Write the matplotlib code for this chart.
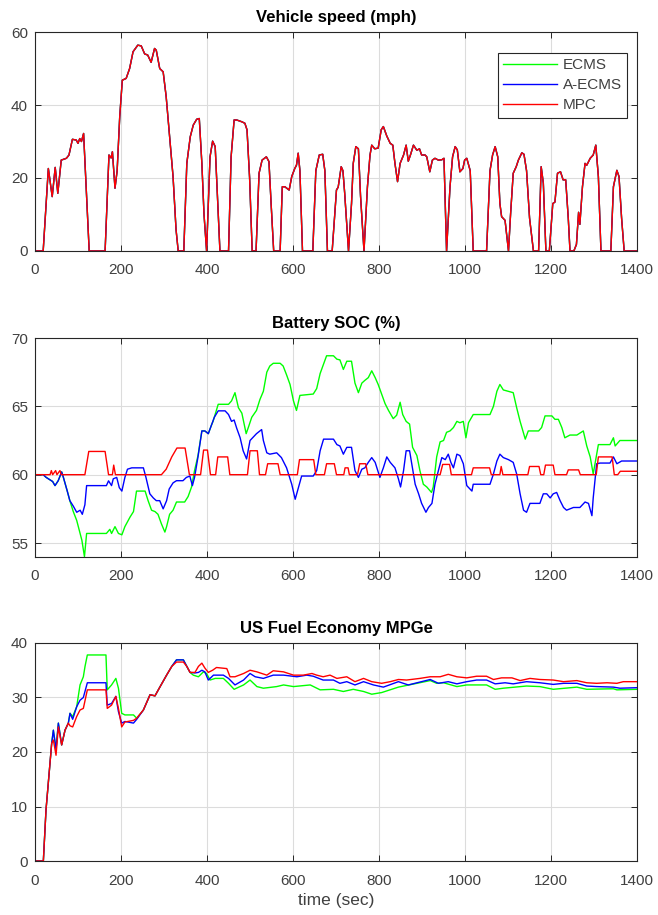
import numpy as np
from matplotlib import pyplot as plt

plt.rcParams['font.family'] = ['Liberation Sans', 'DejaVu Sans']

# vehicle speed (mph), same drive cycle for all three controllers
t_speed = [0, 19, 31, 40, 47, 53, 61, 73, 79, 87, 96, 100, 104, 108, 113, 126, 163, 172, 177, 180,
           186, 191, 197, 203, 212, 220, 228, 239, 247, 255, 262, 270, 278, 282, 290, 298, 305, 313,
           321, 328, 333, 346, 353, 361, 368, 376, 382, 388, 393, 399, 407, 413, 419, 426, 430, 450,
           456, 463, 469, 481, 488, 493, 499, 505, 514, 521, 528, 538, 544, 549, 555, 570, 575, 581,
           591, 597, 604, 608, 612, 616, 622, 646, 653, 661, 669, 674, 680, 691, 701, 705, 712, 716,
           720, 729, 736, 740, 746, 752, 757, 765, 773, 779, 783, 790, 798, 805, 810, 818, 826, 832,
           837, 843, 849, 857, 863, 868, 873, 880, 888, 894, 899, 907, 911, 918, 924, 930, 938, 946,
           951, 957, 965, 971, 977, 982, 988, 995, 999, 1004, 1012, 1019, 1050, 1058, 1064, 1070,
           1076, 1081, 1085, 1093, 1101, 1106, 1112, 1119, 1124, 1132, 1137, 1143, 1150, 1159, 1171,
           1177, 1182, 1188, 1196, 1204, 1209, 1215, 1222, 1228, 1234, 1240, 1244, 1253, 1259, 1264,
           1267, 1273, 1279, 1283, 1291, 1298, 1304, 1310, 1316, 1339, 1345, 1353, 1358, 1364, 1370,
           1400]
speed = [0, 0, 22.6, 14.9, 22.9, 15.8, 24.9, 25.4, 26.3, 30.6, 30.4, 29.5, 30.8, 30.0, 32.2, 0, 0,
         26.3, 25.5, 27.2, 17.2, 22, 36.8, 46.8, 47.3, 50.0, 54.6, 56.4, 56.2, 54.0, 53.7, 51.7, 55.5,
         55.0, 50.0, 49.1, 42.3, 31.3, 20.4, 5.8, 0, 0, 24, 31.3, 34.5, 36.1, 36.3, 24, 10, 0, 25.8,
         30.1, 28.6, 10, 0, 0, 25.8, 35.9, 35.9, 35.4, 35.0, 33.2, 20, 0, 0, 21.3, 24.9, 25.8, 24.5,
         13, 0, 0, 17.6, 17.6, 16.7, 20.4, 22.6, 23.5, 26.8, 22, 0, 0, 22, 26.3, 26.5, 22, 0, 0, 16.7,
         17.5, 23.1, 22, 16, 0, 13, 24, 28.6, 28, 15, 0, 17.6, 26.3, 29, 28, 28.2, 33.2, 34.1, 31.5,
         29.5, 29, 24, 19, 24, 26.3, 29, 24.6, 26.3, 29, 27.6, 28, 26.3, 26.3, 25.8, 21.7, 24.9, 25.4,
         24.9, 25, 25.4, 0, 17.6, 25.8, 28.6, 27.7, 21.7, 22.6, 24.9, 25.4, 22, 0, 0, 22, 26.3, 28.6,
         25.8, 13, 9.4, 8.4, 0, 10.4, 21.3, 23.1, 24.9, 26.9, 26.5, 22, 9, 0, 0, 23.1, 18.6, 0, 0, 13,
         13.4, 21.3, 21.7, 19.5, 19.5, 9, 0, 0, 1.8, 10.6, 7.3, 17.6, 24, 23.5, 25.4, 26.3, 29, 20.4,
         0, 0, 17.6, 22.1, 20.4, 9, 0, 0]

# battery SOC (%)
t_soc_ecms = [0, 19, 26, 41, 46.5, 54, 62, 66, 75, 81, 89, 97, 109, 115, 120, 166, 174, 178, 186,
              194, 202, 209, 221, 229, 236, 256, 263, 271, 279, 286, 294, 302, 306, 313, 321, 329,
              348, 356, 364, 371, 379, 388, 395, 403, 410, 414, 426, 450, 457, 465, 473, 481, 491,
              496, 504, 515, 523, 531, 539, 546, 554, 570, 577, 585, 593, 601, 608, 616, 647, 655,
              663, 671, 678, 694, 702, 709, 717, 725, 736, 744, 752, 760, 767, 775, 783, 791, 798,
              806, 814, 822, 833, 841, 849, 855, 863, 871, 878, 888, 895, 903, 911, 922, 926, 934,
              942, 950, 957, 965, 973, 981, 988, 996, 1002, 1008, 1019, 1058, 1066, 1074, 1081,
              1089, 1101, 1112, 1120, 1128, 1140, 1147, 1171, 1178, 1186, 1202, 1209, 1217, 1225,
              1232, 1244, 1260, 1275, 1283, 1291, 1298, 1306, 1310, 1337, 1345, 1349, 1360, 1400]
soc_ecms = [60, 60, 59.8, 59.5, 59.2, 59.56, 60.2, 59.8, 58.8, 58.1, 57.3, 56.65, 55.2, 54.0, 55.7,
            55.7, 56.0, 55.7, 56.2, 55.7, 55.6, 56.2, 56.9, 57.3, 58.8, 58.8, 58.1, 57.4, 57.3,
            57.1, 56.4, 55.8, 56.2, 57.1, 57.4, 58.0, 58.0, 58.4, 59.1, 60.3, 61.4, 63.2, 63.2,
            63.0, 63.6, 63.9, 65.15, 65.15, 65.4, 66.0, 64.9, 64.5, 63.0, 63.45, 64.2, 64.7, 65.5,
            66.1, 67.5, 67.95, 68.15, 68.15, 67.95, 67.3, 66.6, 65.4, 64.7, 65.8, 65.9, 66.3,
            67.4, 68.1, 68.7, 68.7, 68.45, 68.4, 67.7, 68.3, 68.3, 66.7, 66.0, 66.7, 66.9, 67.1,
            67.6, 67.1, 66.6, 65.9, 65.2, 64.7, 64.1, 64.35, 65.3, 64.4, 63.9, 63.7, 62.0, 61.4,
            60.3, 59.3, 59.1, 58.7, 59.1, 61.3, 62.4, 62.5, 63.1, 63.2, 63.45, 63.9, 63.8, 63.9,
            62.7, 63.8, 64.4, 64.4, 65.0, 66.1, 66.6, 66.2, 66.1, 66.0, 64.9, 63.9, 62.6, 63.2,
            63.2, 63.45, 64.3, 64.3, 64.05, 64.05, 63.45, 62.7, 62.9, 62.9, 63.2, 62.1, 61.3,
            60.05, 61.5, 62.2, 62.2, 62.7, 62.1, 62.5, 62.5]

t_soc_aecms = [0, 19, 26, 41, 46.5, 54, 62, 66, 75, 81, 89, 97, 105, 110, 116, 120, 166, 171, 178,
               182, 190, 196, 202, 209, 215, 225, 252, 258, 267, 275, 282, 290, 298, 306, 312, 321,
               329, 344, 352, 360, 366, 371, 379, 388, 395, 403, 410, 417, 426, 442, 450, 457, 463,
               469, 477, 484, 492, 500, 506, 515, 523, 527, 531, 539, 546, 562, 573, 585, 597, 605,
               612, 620, 647, 655, 663, 671, 694, 702, 709, 717, 725, 736, 744, 752, 760, 767, 775,
               783, 791, 802, 810, 818, 826, 837, 845, 850, 857, 863, 871, 876, 884, 892, 899, 909,
               915, 923, 930, 938, 946, 954, 961, 967, 973, 981, 988, 996, 1004, 1016, 1019, 1058,
               1066, 1074, 1081, 1089, 1101, 1112, 1120, 1128, 1136, 1143, 1151, 1174, 1182, 1190,
               1198, 1205, 1213, 1221, 1229, 1236, 1252, 1267, 1279, 1287, 1295, 1298, 1306, 1314,
               1337, 1345, 1353, 1364, 1400]
soc_aecms = [60, 60, 59.8, 59.5, 59.2, 59.56, 60.2, 59.8, 58.8, 58.1, 57.7, 57.25, 57.4, 57.1, 57.8,
             59.2, 59.2, 59.55, 59.2, 59.7, 59.8, 59.05, 58.8, 59.8, 60.4, 60.5, 60.5, 59.8, 58.6,
             58.3, 58.1, 58.1, 57.5, 58.1, 58.95, 59.4, 59.56, 59.56, 59.8, 59.9, 59.2, 59.8, 61.3,
             63.2, 63.2, 63.0, 63.6, 64.2, 64.67, 64.67, 64.4, 63.9, 64.0, 63.4, 62.7, 61.75, 61.15,
             62.5, 62.7, 63.0, 63.2, 63.3, 62.5, 61.6, 61.5, 61.6, 61.25, 60.5, 59.3, 58.2, 59.0,
             59.9, 59.9, 60.3, 61.75, 62.6, 62.6, 62.2, 62.1, 61.5, 62.0, 62.0, 60.3, 59.8, 60.4,
             60.5, 60.9, 61.25, 60.9, 59.8, 60.5, 61.3, 60.9, 60.5, 59.7, 59.1, 60.3, 61.75, 61.75,
             60.8, 59.3, 58.6, 57.9, 57.25, 57.6, 57.9, 59.3, 60.3, 61.25, 61.1, 61.5, 60.9, 60.5,
             61.5, 61.4, 60.8, 59.2, 58.8, 59.3, 59.3, 60.05, 61.0, 61.5, 61.25, 61.1, 60.9, 60.05,
             58.6, 57.4, 57.25, 57.9, 57.9, 58.6, 58.6, 58.3, 58.6, 58.7, 58.1, 57.6, 57.4, 57.6,
             57.6, 58.0, 57.9, 57.0, 58.3, 60.8, 60.85, 60.85, 61.3, 60.8, 61.0, 61.0]

t_soc_mpc = [0, 35, 38, 41, 48, 51, 58, 61, 116, 125, 163, 171, 180, 183, 187, 294, 305, 318, 330,
             349, 359, 385, 392, 401, 408, 420, 425, 448, 453, 494, 500, 517, 522, 536, 541, 565,
             570, 610, 615, 648, 653, 673, 678, 696, 701, 718, 721, 728, 731, 750, 755, 769, 774,
             942, 948, 964, 968, 1015, 1019, 1057, 1061, 1081, 1084, 1088, 1146, 1150, 1172, 1176,
             1183, 1187, 1205, 1209, 1236, 1240, 1264, 1268, 1305, 1310, 1342, 1347, 1355, 1361,
             1400]
soc_mpc = [60, 60, 60.3, 60, 60.3, 60, 60.3, 60, 60, 61.7, 61.7, 60, 60, 60.7, 60, 60, 60.4, 61.3,
           61.95, 61.95, 60, 60, 61.8, 61.8, 60, 60, 61.3, 61.3, 60, 60, 61.75, 61.75, 60, 60, 60.8,
           60.8, 60, 60, 61.1, 61.1, 60, 60, 60.8, 60.8, 60, 60, 60.5, 60.5, 60, 60, 60.8, 60.8, 60,
           60, 60.75, 60.75, 60, 60, 60.5, 60.5, 60, 60, 60.6, 60, 60, 60.6, 60.6, 60, 60, 60.7,
           60.7, 60, 60, 60.35, 60.35, 60, 60, 61.3, 61.3, 60, 60, 60.25, 60.25]

# cumulative fuel economy (MPGe)
t_mpg_ecms = [0, 19.4, 25.6, 38.8, 42.7, 48.9, 54.3, 62, 69.8, 77.5, 81.4, 87.6, 96.9, 104.7, 112.4,
              116.3, 121.7, 165, 168, 178, 188, 194, 201.6, 209, 229, 236.5, 252, 267.5, 279, 291,
              306, 318, 329, 345, 353, 360.5, 368, 380, 391.5, 399, 407, 419, 438, 450, 463, 485,
              500, 516, 531, 562, 578, 601, 640, 663, 694, 717, 740, 764, 783, 806, 845, 919, 934,
              950, 981, 1004, 1050, 1070, 1089, 1143, 1174, 1205, 1260, 1283, 1345, 1353, 1400]
mpg_ecms = [0, 0, 9.4, 21.6, 24.0, 20.5, 25.3, 21.3, 24, 25.3, 27.1, 26.5, 28.3, 32.3, 33.8, 35.7,
            37.8, 37.8, 31.4, 32.3, 33.5, 31.7, 27.1, 26.8, 26.8, 26.2, 27.7, 30.5, 30.3, 32, 34.1,
            35.7, 36.9, 36.9, 35.7, 34.6, 34.1, 33.8, 34.7, 34.4, 33.2, 33.5, 33.5, 32.6, 31.5,
            32.3, 33.2, 32.0, 31.7, 32.0, 32.3, 32.0, 32.3, 31.4, 31.5, 31.1, 31.5, 31.1, 30.6,
            30.9, 31.9, 33.1, 32.6, 32.7, 32.0, 32.3, 32.3, 31.5, 31.7, 32.1, 32.0, 31.5, 31.9,
            31.5, 31.6, 31.4, 31.5]

t_mpg_aecms = [0, 19.4, 25.6, 38.8, 42.7, 48.9, 54.3, 62, 69.8, 77.5, 81.4, 87.6, 96.9, 104.7,
               112.4, 121.7, 165, 168, 178, 188, 194, 201.6, 209, 229, 236.5, 252, 267.5, 279, 291,
               306, 318, 329, 345, 353, 360.5, 372, 380, 388, 395, 403, 415, 438, 450, 465, 485,
               500, 512, 531, 554, 578, 609, 632, 647, 670, 694, 709, 725, 744, 764, 787, 810, 845,
               868, 919, 938, 961, 981, 1004, 1027, 1050, 1070, 1093, 1112, 1143, 1174, 1205, 1229,
               1260, 1283, 1306, 1345, 1360, 1400]
mpg_aecms = [0, 0, 9.4, 21.6, 24.0, 20.5, 25.3, 21.3, 24, 25.3, 27.1, 26.0, 28.3, 29.5, 30.0, 32.7,
             32.7, 28.6, 28.9, 30.2, 27.4, 25.3, 25.6, 25.3, 26.0, 27.7, 30.5, 30.3, 32, 34.1, 35.7,
             36.9, 36.9, 35.7, 34.6, 34.5, 34.6, 35.0, 34.7, 33.2, 34.1, 34.1, 33.5, 32.3, 33.2,
             34.4, 33.8, 33.5, 34.1, 34.1, 33.8, 34.1, 33.9, 33.2, 33.2, 32.6, 32.9, 32.3, 32.9,
             32.3, 31.9, 32.9, 32.3, 33.3, 32.6, 32.9, 32.5, 32.9, 33.2, 33.2, 32.5, 32.7, 32.5,
             32.9, 32.7, 32.4, 32.6, 32.6, 32.1, 32.0, 31.9, 31.7, 31.8]

t_mpg_mpc = [0, 19.4, 25.6, 38.8, 42.7, 48.9, 54.3, 62, 69.8, 77.5, 81.4, 87.6, 96.9, 104.7, 112.4,
             121.7, 165, 168, 178, 188, 194, 201.6, 209, 229, 236.5, 252, 267.5, 279, 291, 306, 318,
             329, 345, 353, 360.5, 372, 380, 388, 395, 403, 413, 422, 446, 453.5, 465, 485, 500,
             516, 539, 554, 578, 601, 624, 644, 655, 670, 686, 702, 725, 744, 764, 783, 806, 826,
             845, 864, 895, 919, 942, 961, 981, 1004, 1027, 1050, 1066, 1085, 1109, 1128, 1151,
             1174, 1205, 1229, 1260, 1283, 1306, 1330, 1353, 1368, 1400]
mpg_mpc = [0, 0, 9.4, 21.6, 22.2, 19.4, 24.6, 21.3, 24, 25.3, 24.8, 24.6, 26.5, 27.7, 28.0, 31.4,
           31.4, 28.0, 28.6, 30.2, 28.0, 24.6, 25.5, 25.8, 26.2, 27.7, 30.5, 30.3, 32, 34.1, 35.7,
           36.5, 36.5, 35.7, 34.6, 34.6, 35.7, 36.3, 35.4, 34.6, 35.0, 35.5, 35.3, 33.8, 33.8, 34.4,
           35.0, 34.7, 34.1, 34.9, 34.7, 34.1, 34.1, 34.4, 34.1, 33.8, 34.1, 33.5, 33.8, 32.9, 33.5,
           32.9, 32.6, 32.9, 33.3, 33.2, 33.5, 33.8, 33.8, 34.25, 33.8, 33.6, 33.9, 33.9, 33.3,
           33.6, 33.6, 33.1, 33.5, 33.3, 33.2, 32.9, 33.1, 32.7, 32.6, 32.7, 32.6, 32.9, 32.9]

labels = ['ECMS', 'A-ECMS', 'MPC']
colors = ['#00ff00', '#0000ff', '#ff0000']
txt = '#404040'

fig = plt.figure(figsize=(6.58, 9.15), dpi=100)
left, width = 0.0532, 0.915
ax1 = fig.add_axes([left, 0.7257, width, 0.2393])
ax2 = fig.add_axes([left, 0.3916, width, 0.2390])
ax3 = fig.add_axes([left, 0.0590, width, 0.2383])

for c, lab in zip(colors, labels):
    ax1.plot(t_speed, speed, color=c, lw=1.0, label=lab)

ax2.plot(t_soc_ecms, soc_ecms, color=colors[0], lw=1.0)
ax2.plot(t_soc_aecms, soc_aecms, color=colors[1], lw=1.0)
ax2.plot(t_soc_mpc, soc_mpc, color=colors[2], lw=1.0)

ax3.plot(t_mpg_ecms, mpg_ecms, color=colors[0], lw=1.0)
ax3.plot(t_mpg_aecms, mpg_aecms, color=colors[1], lw=1.0)
ax3.plot(t_mpg_mpc, mpg_mpc, color=colors[2], lw=1.0)

setup = [
    (ax1, 'Vehicle speed (mph)', (0, 60), [0, 20, 40, 60]),
    (ax2, 'Battery SOC (%)', (54, 70), [55, 60, 65, 70]),
    (ax3, 'US Fuel Economy MPGe', (0, 40), [0, 10, 20, 30, 40]),
]
for ax, title, ylim, yt in setup:
    ax.set_xlim(0, 1400)
    ax.set_ylim(*ylim)
    ax.set_xticks(np.arange(0, 1401, 200))
    ax.set_yticks(yt)
    ax.grid(True, color='#dcdcdc', lw=0.8)
    ax.set_axisbelow(True)
    ax.set_title(title, fontsize=12, fontweight='bold', pad=7)
    ax.tick_params(direction='in', top=True, right=True, length=4, width=0.7,
                   labelsize=11, colors='#262626', labelcolor=txt)
    ax.tick_params(axis='x', pad=9)
    ax.tick_params(axis='y', pad=5)
    for s in ax.spines.values():
        s.set_color('#262626')
        s.set_linewidth(0.8)

ax3.set_xlabel('time (sec)', fontsize=12.5, color=txt, labelpad=4)

leg = ax1.legend(loc='upper right', bbox_to_anchor=(0.984, 0.905), fontsize=11,
                 fancybox=False, framealpha=1, edgecolor='#262626', handlelength=3.5,
                 borderpad=0.35, labelspacing=0.4, handletextpad=0.4, borderaxespad=0)
leg.get_frame().set_linewidth(0.8)
for t in leg.get_texts():
    t.set_color(txt)

fig.savefig('out.png', dpi=100)
